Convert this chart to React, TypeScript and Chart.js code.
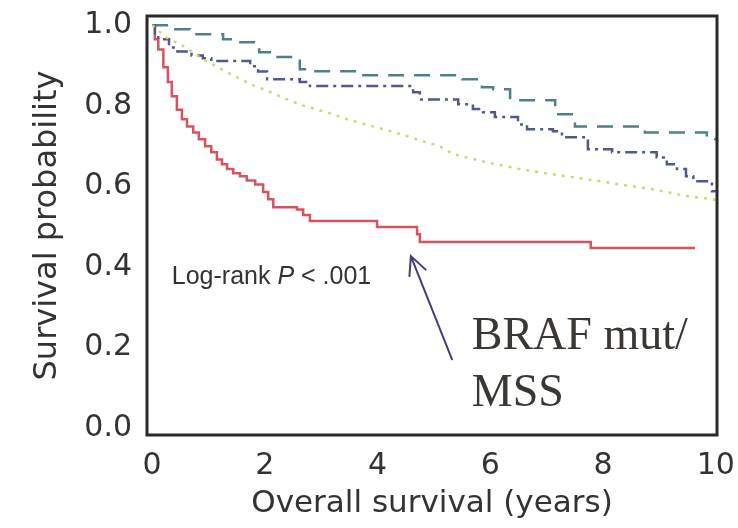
import React, { useEffect, useRef } from 'react';
import { Chart, registerables } from 'chart.js';

Chart.register(...registerables);

// ---- axis ticks ----
const xTickValues = [0, 2, 4, 6, 8, 10];
const yTickValues = [0, 0.2, 0.4, 0.6, 0.8, 1.0];

// ---- BRAF mut / MSS (red, solid) ----
const redTimes = [0, 0.05, 0.11, 0.2, 0.28, 0.35, 0.44, 0.53, 0.62, 0.73, 0.83, 0.94, 1.05, 1.15, 1.24, 1.33, 1.44, 1.56, 1.68, 1.83, 1.97, 2.06, 2.15, 2.57, 2.68, 2.8, 3.99, 4.7, 4.75, 7.78, 9.63];
const redSurv = [1.0, 0.965, 0.94, 0.896, 0.859, 0.824, 0.79, 0.767, 0.749, 0.734, 0.717, 0.7, 0.685, 0.667, 0.655, 0.643, 0.633, 0.625, 0.615, 0.605, 0.586, 0.568, 0.548, 0.543, 0.529, 0.514, 0.499, 0.481, 0.462, 0.447, 0.447];

// ---- dashed (top) ----
const dashTimes = [0, 0.3, 0.67, 1.26, 1.5, 1.83, 1.9, 2.2, 2.62, 2.8, 3.65, 5.5, 5.85, 6.05, 6.35, 7.15, 7.5, 8.74, 9.84, 10.0];
const dashSurv = [1.0, 0.99, 0.978, 0.965, 0.958, 0.94, 0.933, 0.921, 0.891, 0.886, 0.876, 0.866, 0.846, 0.841, 0.814, 0.779, 0.749, 0.734, 0.717, 0.717];

// ---- dash-dot ----
const dotDashTimes = [0, 0.05, 0.11, 0.3, 0.45, 0.7, 0.9, 1.05, 1.74, 1.88, 2.04, 2.62, 2.8, 4.63, 4.75, 5.43, 5.69, 5.87, 6.08, 6.49, 6.65, 7.11, 7.27, 7.73, 8.16, 8.95, 9.13, 9.31, 9.47, 9.6, 9.93, 10.0];
const dotDashSurv = [1.0, 0.98, 0.965, 0.945, 0.935, 0.925, 0.918, 0.911, 0.898, 0.885, 0.866, 0.859, 0.849, 0.834, 0.816, 0.804, 0.792, 0.784, 0.772, 0.754, 0.742, 0.737, 0.722, 0.692, 0.685, 0.672, 0.655, 0.643, 0.625, 0.613, 0.588, 0.588];

// ---- dotted (yellow) ----
const dotTimes = [0, 0.05, 0.14, 0.25, 0.5, 0.65, 0.85, 1.05, 1.33, 1.55, 1.74, 2.0, 2.39, 2.7, 3.1, 3.5, 3.92, 4.2, 4.52, 4.8, 5.1, 5.34, 5.94, 6.52, 7.11, 7.71, 8.3, 8.88, 9.49, 9.95, 10.0];
const dotSurv = [1.0, 0.995, 0.983, 0.97, 0.953, 0.94, 0.92, 0.905, 0.883, 0.868, 0.854, 0.84, 0.816, 0.8, 0.784, 0.765, 0.749, 0.738, 0.725, 0.712, 0.7, 0.68, 0.66, 0.643, 0.63, 0.618, 0.605, 0.593, 0.576, 0.568, 0.565];

// ---- annotation anchors (data units) ----
const logRankAnchor = { x: 0.35, y: 0.375 };
const arrowTip = { x: 4.59, y: 0.427 };
const arrowTail = { x: 5.32, y: 0.171 };
const labelAnchor = { x: 5.67, y: 0.196 };
const labelLines = ['BRAF mut/', 'MSS'];

const toPoints = (t: number[], s: number[]) => t.map((v, i) => ({ x: v, y: s[i] }));

const framePlugin = {
  id: 'frame',
  afterDatasetsDraw(chart: any) {
    const { ctx, chartArea: a } = chart;
    ctx.save();
    ctx.strokeStyle = '#2a2a2a';
    ctx.lineWidth = 3;
    ctx.strokeRect(a.left, a.top, a.right - a.left, a.bottom - a.top);
    ctx.restore();
  },
};

const annotationPlugin = {
  id: 'annot',
  afterDraw(chart: any) {
    const { ctx } = chart;
    const xs = chart.scales.x;
    const ys = chart.scales.y;
    ctx.save();
    // Log-rank text
    let lx = xs.getPixelForValue(logRankAnchor.x);
    const ly = ys.getPixelForValue(logRankAnchor.y);
    ctx.fillStyle = '#333333';
    ctx.textBaseline = 'middle';
    ctx.textAlign = 'left';
    const parts: [string, string][] = [
      ['Log-rank ', 'normal'],
      ['P', 'italic'],
      [' < .001', 'normal'],
    ];
    for (const [txt, style] of parts) {
      ctx.font = `${style} 25px "Liberation Sans", Arial, sans-serif`;
      ctx.fillText(txt, lx, ly);
      lx += ctx.measureText(txt).width;
    }
    // arrow
    const tx = xs.getPixelForValue(arrowTip.x);
    const ty = ys.getPixelForValue(arrowTip.y);
    const bx = xs.getPixelForValue(arrowTail.x);
    const by = ys.getPixelForValue(arrowTail.y);
    ctx.strokeStyle = '#4a3b80';
    ctx.lineWidth = 2;
    ctx.lineCap = 'round';
    ctx.beginPath();
    ctx.moveTo(bx, by);
    ctx.lineTo(tx, ty);
    const ang = Math.atan2(by - ty, bx - tx);
    const len = 20;
    const spread = 0.45;
    ctx.moveTo(tx + len * Math.cos(ang - spread), ty + len * Math.sin(ang - spread));
    ctx.lineTo(tx, ty);
    ctx.lineTo(tx + len * Math.cos(ang + spread), ty + len * Math.sin(ang + spread));
    ctx.stroke();
    // label
    const px = xs.getPixelForValue(labelAnchor.x);
    const py = ys.getPixelForValue(labelAnchor.y);
    ctx.fillStyle = '#3b3733';
    ctx.font = '46px "Liberation Serif", "Times New Roman", serif';
    ctx.textBaseline = 'alphabetic';
    labelLines.forEach((line, i) => ctx.fillText(line, px, py + i * 57));
    ctx.restore();
  },
};

export default function App() {
  const ref = useRef<HTMLCanvasElement | null>(null);
  useEffect(() => {
    if (!ref.current) return;
    const tickFont = { family: '"DejaVu Sans", sans-serif', size: 30 };
    const chart = new Chart(ref.current, {
      type: 'line',
      data: {
        datasets: [
          {
            label: 'dotted',
            data: toPoints(dotTimes, dotSurv),
            borderColor: '#d3d670',
            borderWidth: 2.5,
            borderDash: [3, 6],
            pointRadius: 0,
            stepped: false,
          },
          {
            label: 'dash-dot',
            data: toPoints(dotDashTimes, dotDashSurv),
            borderColor: '#4f5a8a',
            borderWidth: 2.5,
            borderDash: [12, 5, 3, 5],
            pointRadius: 0,
            stepped: 'before',
          },
          {
            label: 'dashed',
            data: toPoints(dashTimes, dashSurv),
            borderColor: '#4e8088',
            borderWidth: 2.5,
            borderDash: [16, 10],
            pointRadius: 0,
            stepped: 'before',
          },
          {
            label: 'BRAF mut/MSS',
            data: toPoints(redTimes, redSurv),
            borderColor: '#d5545f',
            borderWidth: 2.5,
            pointRadius: 0,
            stepped: 'before',
          },
        ],
      },
      options: {
        animation: false,
        responsive: false,
        events: [],
        layout: { padding: { top: 16, right: 21, left: 0, bottom: 0 } },
        plugins: { legend: { display: false }, tooltip: { enabled: false } },
        scales: {
          x: {
            type: 'linear',
            min: -0.09,
            max: 10.02,
            grid: { display: false, drawTicks: false },
            border: { display: false },
            ticks: { font: tickFont, color: '#333333', padding: 13, maxRotation: 0 },
            afterBuildTicks: (s: any) => {
              s.ticks = xTickValues.map((v) => ({ value: v }));
            },
            afterFit: (s: any) => {
              s.height = 93;
              s.paddingLeft = 0;
              s.paddingRight = 0;
            },
            title: {
              display: true,
              text: 'Overall survival (years)',
              font: { family: '"DejaVu Sans", sans-serif', size: 31 },
              color: '#333333',
              padding: { top: 0, bottom: 5 },
            },
          },
          y: {
            type: 'linear',
            min: -0.017,
            max: 1.023,
            grid: { display: false, drawTicks: false },
            border: { display: false },
            ticks: {
              font: tickFont,
              color: '#333333',
              padding: 15,
              callback: (v: any) => Number(v).toFixed(1),
            },
            afterBuildTicks: (s: any) => {
              s.ticks = yTickValues.map((v) => ({ value: v }));
            },
            afterFit: (s: any) => {
              s.width = 147;
              s.paddingTop = 0;
              s.paddingBottom = 0;
            },
            title: {
              display: true,
              text: 'Survival probability',
              font: { family: '"DejaVu Sans", sans-serif', size: 32 },
              color: '#333333',
              padding: { top: 28, bottom: 0 },
            },
          },
        },
      },
      plugins: [framePlugin, annotationPlugin],
    });
    return () => chart.destroy();
  }, []);
  return (
    <div style={{ position: 'absolute', left: 0, top: 0, width: 738, height: 528, background: '#ffffff' }}>
      <canvas ref={ref} width={738} height={528} style={{ display: 'block' }} />
    </div>
  );
}
